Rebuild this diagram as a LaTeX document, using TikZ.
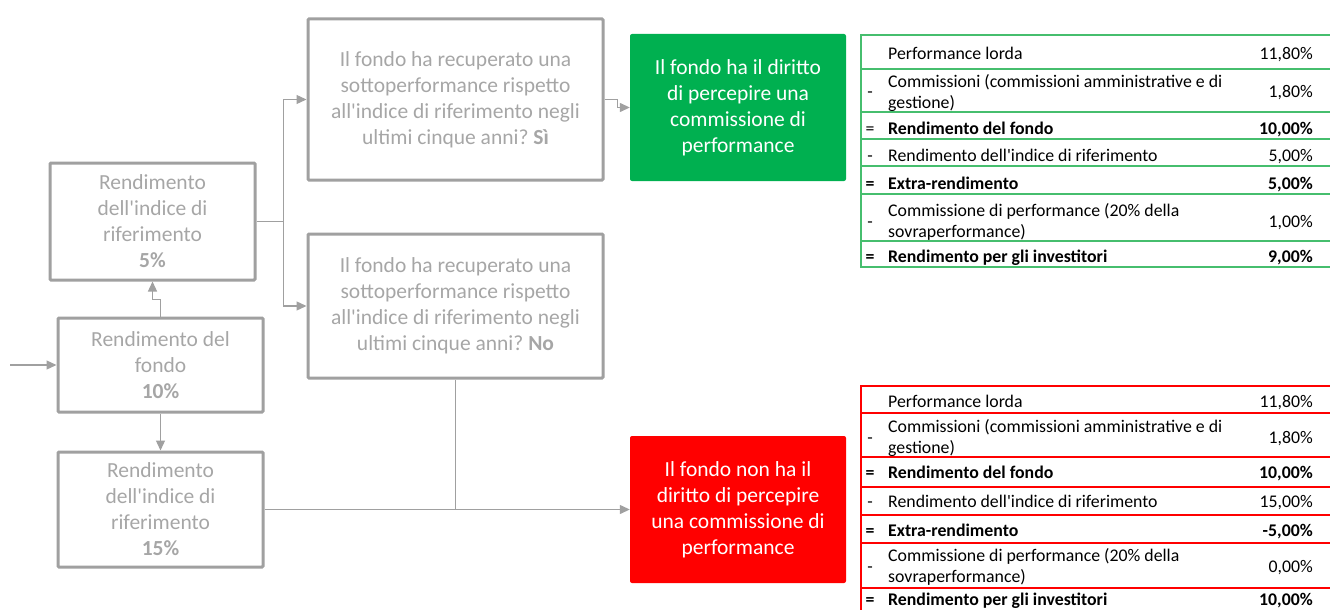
\documentclass[tikz,border=0pt]{standalone}
\usepackage{fontspec}
\setmainfont{Carlito}[Ligatures=TeXOff]
\usetikzlibrary{arrows.meta,calc}
\definecolor{boxgray}{RGB}{166,166,166}
\definecolor{linegray}{RGB}{160,160,160}
\definecolor{okgreen}{RGB}{0,176,80}
\definecolor{tabgreen}{RGB}{70,190,110}
\definecolor{tabred}{RGB}{255,0,0}
\newcommand\bxfont{\fontsize{21.5}{26}\selectfont}
\newcommand\tbfont{\fontsize{17.8}{21}\selectfont}
\newcommand\tabrow[5]{%
  \node[sgn] (#1s) at (870,#2) {\strut #3};
  \node[lbl] (#1t) at (888,#2) {\strut #4\strut};
  \node[val] (#1v) at (1313,#2) {\strut #5};}
\frenchspacing
\begin{document}
\begin{tikzpicture}[x=1pt,y=-1pt,
  graybox/.style={draw=linegray, line width=3pt, text=boxgray, font=\bxfont, align=center, inner sep=0pt, rounded corners=1pt},
  decbox/.style={font=\bxfont, text=white, align=center, inner sep=0pt, rounded corners=2pt, minimum width=216pt, minimum height=147pt},
  conn/.style={draw=linegray, line width=1.3pt, -{Triangle[length=10pt,width=9pt]}},
  sgn/.style={font=\tbfont, inner sep=0pt, anchor=center},
  lbl/.style={font=\tbfont, inner sep=0pt, anchor=west, align=left},
  val/.style={font=\tbfont, inner sep=0pt, anchor=east},
  gline/.style={draw=tabgreen, line width=2pt},
  rline/.style={draw=tabred, line width=2pt}]
\useasboundingbox (0,0) rectangle (1330,610);

% gray boxes
\node[graybox, minimum width=205pt, minimum height=117pt] (b5) at (152.5,221.5) {Rendimento\\dell'indice di\\riferimento\\\textbf{5\%}};
\node[graybox, minimum width=205pt, minimum height=94pt] (fondo) at (160.5,365) {Rendimento del\\fondo\\\textbf{10\%}};
\node[graybox, minimum width=205pt, minimum height=115pt] (b15) at (160.5,509.5) {Rendimento\\dell'indice di\\riferimento\\\textbf{15\%}};
\node[graybox, minimum width=295pt, minimum height=161pt] (si) at (455.5,99.5) {Il fondo ha recuperato una\\sottoperformance rispetto\\all'indice di riferimento negli\\ultimi cinque anni? \textbf{Sì}};
\node[graybox, minimum width=295pt, minimum height=144pt] (no) at (455.5,306) {Il fondo ha recuperato una\\sottoperformance rispetto\\all'indice di riferimento negli\\ultimi cinque anni? \textbf{No}};

% decision boxes
\node[decbox, fill=okgreen] (green) at (738,107.5) {Il fondo ha il diritto\\di percepire una\\commissione di\\performance};
\node[decbox, fill=tabred] (red) at (738,509.5) {Il fondo non ha il\\diritto di percepire\\una commissione di\\performance};

% connectors
\coordinate (start) at (10,365);
\coordinate (j1) at ($(b5.east)+(27,0)$);
\draw[conn] (start) -- (fondo.west);
\draw[conn] (fondo.north) -- ++(0,-17) -| (b5.south);
\draw[conn] (fondo.south) -- (b15.north);
\draw[conn] (b5.east) -- (j1) |- (si.west);
\draw[conn] (j1) |- (no.west);
\draw[conn] (si.east) -- ++(13,0) |- (green.west);
\draw[conn] (b15.east) -- (red.west);
\draw[draw=linegray, line width=1.3pt] (no.south) -- (no.south |- red.west);

% green table
\foreach \y in {35,69,112,139,166,194,241,267} \draw[gline] (861,\y) -- (1331,\y);
\draw[gline] (861,34) -- (861,268);
\tabrow{g1}{55}{}{Performance lorda}{11,80\%}
\tabrow{g2}{93.5}{-}{Commissioni (commissioni amministrative e di\\gestione)}{1,80\%}
\tabrow{g3}{130}{=}{\textbf{Rendimento del fondo}}{\textbf{10,00\%}}
\tabrow{g4}{157.5}{-}{Rendimento dell'indice di riferimento}{5,00\%}
\tabrow{g5}{185.5}{\textbf{=}}{\textbf{Extra-rendimento}}{\textbf{5,00\%}}
\tabrow{g6}{223}{-}{Commissione di performance (20\% della\\sovraperformance)}{1,00\%}
\tabrow{g7}{258}{\textbf{=}}{\textbf{Rendimento per gli investitori}}{\textbf{9,00\%}}

% red table
\foreach \y in {386,413,457,487,515,543,588} \draw[rline] (861,\y) -- (1331,\y);
\draw[rline] (861,385) -- (861,611);
\tabrow{r1}{403}{}{Performance lorda}{11,80\%}
\tabrow{r2}{439}{-}{Commissioni (commissioni amministrative e di\\gestione)}{1,80\%}
\tabrow{r3}{474}{\textbf{=}}{\textbf{Rendimento del fondo}}{\textbf{10,00\%}}
\tabrow{r4}{503}{-}{Rendimento dell'indice di riferimento}{15,00\%}
\tabrow{r5}{532}{\textbf{=}}{\textbf{Extra-rendimento}}{\textbf{-5,00\%}}
\tabrow{r6}{568}{-}{Commissione di performance (20\% della\\sovraperformance)}{0,00\%}
\tabrow{r7}{601}{\textbf{=}}{\textbf{Rendimento per gli investitori}}{\textbf{10,00\%}}
\end{tikzpicture}
\end{document}
